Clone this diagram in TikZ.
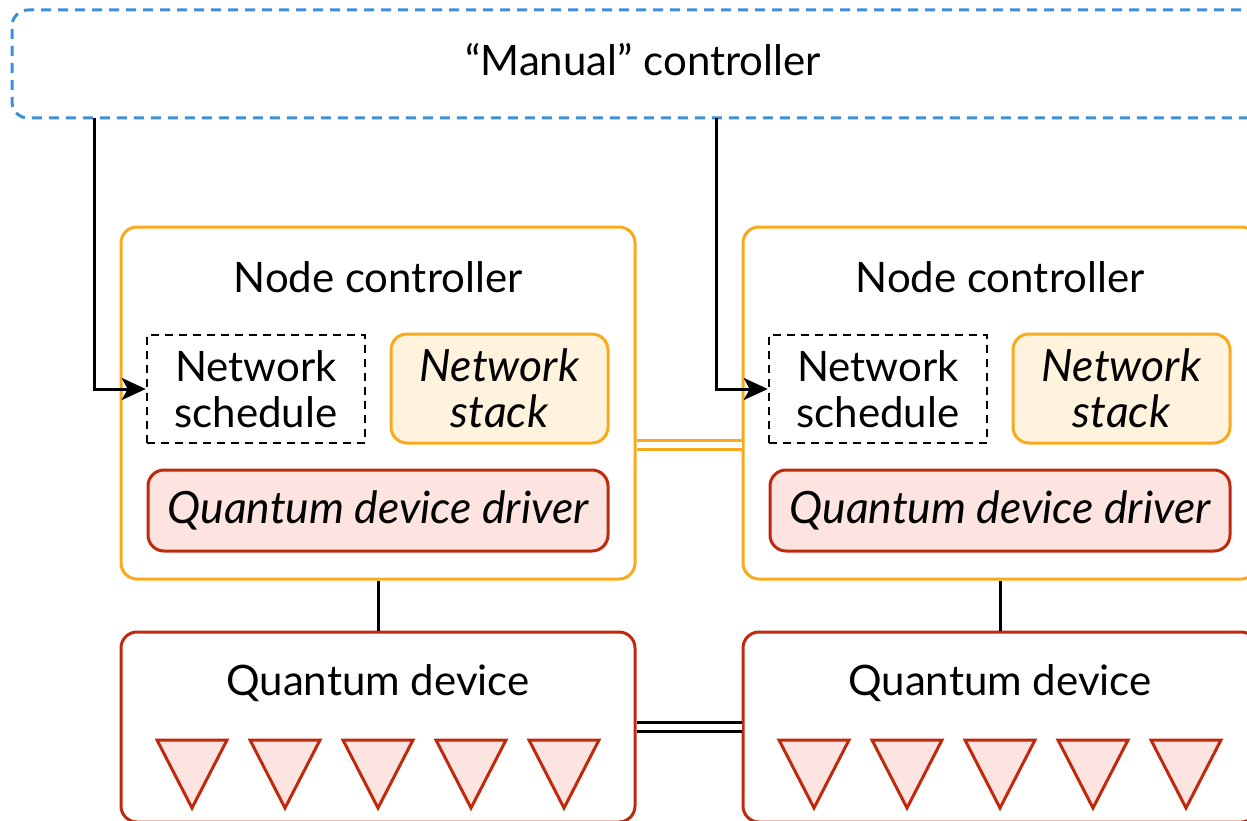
\documentclass[tikz,border=0pt]{standalone}
\usepackage{fontspec}
\setmainfont{Lato}
\usetikzlibrary{arrows.meta}

\definecolor{mgrblue}{HTML}{3D8FDB}
\definecolor{ctlorange}{HTML}{F9AA1C}
\definecolor{stackfill}{HTML}{FFF3DE}
\definecolor{devred}{HTML}{BF2A0C}
\definecolor{devfill}{HTML}{FDE4E1}

\tikzset{
    every node/.style={font=\fontsize{42}{46}\selectfont},
    itfont/.style={font=\fontsize{44.5}{46}\selectfont\itshape},
    manualbox/.style={draw=mgrblue, dash pattern=on 10pt off 7pt, line width=3pt, rounded corners=16pt,
        minimum width=1262pt, minimum height=108pt},
    ctlbox/.style={draw=ctlorange, line width=3pt, rounded corners=16pt, minimum width=514pt, minimum height=352pt},
    schedbox/.style={draw, dash pattern=on 8pt off 6pt, line width=2.5pt, minimum width=218pt, minimum height=108pt,
        align=center},
    stackbox/.style={draw=ctlorange, fill=stackfill, line width=3pt, rounded corners=16pt,
        minimum width=217pt, minimum height=109pt, align=center, itfont},
    driverbox/.style={draw=devred, fill=devfill, line width=3pt, rounded corners=16pt,
        minimum width=460pt, minimum height=81pt, itfont},
    devbox/.style={draw=devred, line width=3pt, rounded corners=16pt, minimum width=514pt, minimum height=190pt},
    qubit/.style={draw=devred, fill=devfill, line width=3pt},
    link/.style={line width=3pt},
}

\begin{document}
\begin{tikzpicture}[x=1pt, y=-1pt]
        \useasboundingbox (0,0) rectangle (1247,821);

        % manual controller
        \node[manualbox] (manual) at (643,64) {};
        \node (manualtxt) at (643,60) {“Manual” controller};

        % node controllers
        \node[ctlbox] (ctl1) at (378,403) {};
        \node (ctltxt1) at (378,277) {Node controller};
        \node[schedbox] (sched1) at (256,389) {Network\\schedule};
        \node[stackbox] (stack1) at (499.5,388.5) {Network\\stack};
        \node[driverbox] (driver1) at (378,510.5) {Quantum device driver};

        \node[ctlbox] (ctl2) at (1000,403) {};
        \node (ctltxt2) at (1000,277) {Node controller};
        \node[schedbox] (sched2) at (878,389) {Network\\schedule};
        \node[stackbox] (stack2) at (1121.5,388.5) {Network\\stack};
        \node[driverbox] (driver2) at (1000,510.5) {Quantum device driver};

        % quantum devices
        \node[devbox] (dev1) at (378,727) {};
        \node (devtxt1) at (378,683) {Quantum device};
        \node[devbox] (dev2) at (1000,727) {};
        \node (devtxt2) at (1000,683) {Quantum device};

        \foreach \c in {192,285,378,471,564,814,907,1000,1093,1186}
            \draw[qubit] (\c-35,740) -- (\c+35,740) -- (\c,808) -- cycle;

        % connections
        \coordinate (tap1) at (94,118);
        \coordinate (tap2) at (716,118);
        \draw[link,-{Stealth[length=24pt,width=22pt,inset=6pt]}] (tap1) |- (sched1.west);
        \draw[link,-{Stealth[length=24pt,width=22pt,inset=6pt]}] (tap2) |- (sched2.west);

        \draw[link] (ctl1.south) -- (dev1.north);
        \draw[link] (ctl2.south) -- (dev2.north);

        \draw[ctlorange, line width=3pt, double=white, double distance=6pt]
            (ctl1.east |- stack1.south) -- (ctl2.west |- stack1.south);
        \draw[black, line width=3pt, double=white, double distance=6pt] (dev1.east) -- (dev2.west);

    \end{tikzpicture}
\end{document}
